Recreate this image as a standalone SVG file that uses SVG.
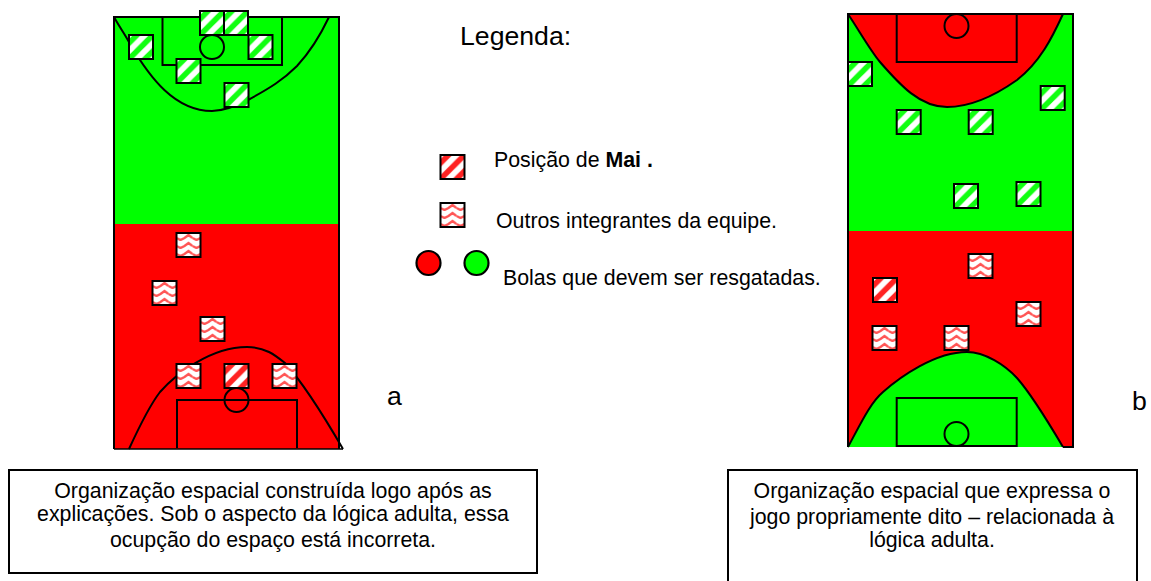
<svg xmlns="http://www.w3.org/2000/svg" width="1151" height="581" viewBox="0 0 1151 581">
<style>
text{font-family:"Liberation Sans",Arial,sans-serif;fill:#000}
.l{font-size:21.33px}
.c{font-size:21.33px;text-anchor:middle}
.big{font-size:26.67px}
.s{stroke:#000;stroke-width:2;fill:none}
.f{stroke:#000;stroke-width:2.2}
.sq{stroke:#000;stroke-width:2}
.g{fill:url(#dg)}
.r{fill:url(#dr)}
.w{fill:url(#wv)}
</style>
<defs>
<pattern id="dg" x="0" y="0" width=".66667" height=".66667"><rect width="16" height="16" fill="#fff"/><path d="M-4 12L12 -4M-4 28L28 -4" stroke="#1f1" stroke-width="5.5"/></pattern>
<pattern id="dr" x="0" y="0" width=".66667" height=".66667"><rect width="16" height="16" fill="#fff"/><path d="M-4 12L12 -4M-4 28L28 -4" stroke="#f22" stroke-width="5.5"/></pattern>
<pattern id="wv" x="0" y="0" width=".66667" height=".33333"><rect width="16" height="8" fill="#fff"/><path d="M0 5L4 7L8 5L12 2L16 5" fill="none" stroke="#f55" stroke-width="2.400"/></pattern>
</defs>

<g id="court-a">
<rect x="114" y="17" width="225" height="207" fill="#0f0"/>
<rect x="114" y="224" width="225" height="225" fill="#f00"/>
<path class="s" d="M114 449V17H339V449"/>
<path class="s" d="M162.500 17H282V65H162.500Z"/>
<circle class="s" cx="212" cy="47" r="12"/>
<path class="s" d="M114 17C120 28 125 34 130 44C150 78 175 111 212 111C225 111 240 104 248 100C270 88 283 80 297 66C310 52 320 36 329 17"/>
<path class="s" d="M177 448V400H297V448"/>
<circle class="s" cx="236.500" cy="400" r="12"/>
<path class="s" d="M129 449C140 425 150 405 160 392C175 375 210 347 247 347C265 347 275 355 285 363C305 385 325 418 343 449"/>
<path d="M114 449H343" stroke="#000" stroke-width="1.400"/>
</g>

<g id="players-a">
<rect class="sq g" x="200" y="11" width="24" height="24"/>
<rect class="sq g" x="224" y="11" width="24" height="24"/>
<rect class="sq g" x="248.500" y="35" width="24" height="24"/>
<rect class="sq g" x="129" y="35" width="24" height="24"/>
<rect class="sq g" x="176.500" y="59" width="24" height="24"/>
<rect class="sq g" x="224.500" y="83" width="24" height="24"/>
<rect class="sq w" x="176.500" y="233" width="24" height="24"/>
<rect class="sq w" x="152.500" y="281" width="24" height="24"/>
<rect class="sq w" x="200.500" y="317" width="24" height="24"/>
<rect class="sq w" x="176.500" y="364" width="24" height="24"/>
<rect class="sq r" x="224.500" y="364" width="24" height="24"/>
<rect class="sq w" x="272.500" y="364" width="24" height="24"/>
</g>

<g id="court-b">
<rect x="848" y="14" width="225" height="217" fill="#0f0"/>
<path d="M848 14C860 32 870 50 880 62C900 85 920 107 947 107C975 107 1000 92 1017 80C1040 62 1052 38 1063 14Z" fill="#f00"/>
<rect x="848" y="231" width="225" height="216" fill="#f00"/>
<path d="M848 447C860 425 870 403 883 392C900 377 935 352 967 352C985 352 1005 365 1017 378C1032 395 1050 425 1063 447Z" fill="#0f0"/>
<path class="s" d="M848 447V14H1073V447H1063"/>
<path class="s" d="M848 14C860 32 870 50 880 62C900 85 920 107 947 107C975 107 1000 92 1017 80C1040 62 1052 38 1063 14"/>
<path class="s" d="M848 447C860 425 870 403 883 392C900 377 935 352 967 352C985 352 1005 365 1017 378C1032 395 1050 425 1063 447"/>
<path class="s" d="M896.700 14H1016.700V62H896.700Z"/>
<circle class="s" cx="956.500" cy="26" r="12"/>
<path class="s" d="M896.700 398H1016.700V446H896.700Z"/>
<circle class="s" cx="956.500" cy="434" r="12"/>
</g>

<g id="players-b">
<rect class="sq g" x="848" y="62" width="24" height="24"/>
<rect class="sq g" x="896.700" y="110" width="24" height="24"/>
<rect class="sq g" x="968.700" y="110" width="24" height="24"/>
<rect class="sq g" x="1040.700" y="86" width="24" height="24"/>
<rect class="sq g" x="954" y="184" width="24" height="24"/>
<rect class="sq g" x="1016.500" y="182" width="24" height="24"/>
<rect class="sq w" x="968.500" y="254" width="24" height="24"/>
<rect class="sq r" x="873" y="278" width="24" height="24"/>
<rect class="sq w" x="1016.500" y="302" width="24" height="24"/>
<rect class="sq w" x="872.500" y="326" width="24" height="24"/>
<rect class="sq w" x="944.500" y="326" width="24" height="24"/>
</g>

<g id="legend">
<text class="big" x="460" y="45">Legenda:</text>
<rect class="sq r" x="440.500" y="155" width="24" height="24"/>
<text class="l" x="494" y="167">Posição de <tspan font-weight="bold">Mai .</tspan></text>
<rect class="sq w" x="440.500" y="203" width="24" height="24"/>
<text class="l" x="496" y="228">Outros integrantes da equipe.</text>
<circle class="f" cx="428.500" cy="263" r="12" fill="#f00"/>
<circle class="f" cx="476.500" cy="263" r="12" fill="#0f0"/>
<text class="l" x="503" y="285">Bolas que devem ser resgatadas.</text>
</g>

<text class="big" x="387" y="405">a</text>
<text class="big" x="1132" y="410">b</text>

<g id="caption-a">
<rect x="9" y="470" width="528" height="103" fill="#fff" stroke="#000" stroke-width="2"/>
<text class="c" x="273" y="498">Organização espacial construída logo após as</text>
<text class="c" x="273" y="521">explicações. Sob o aspecto da lógica adulta, essa</text>
<text class="c" x="273" y="547">ocupção do espaço está incorreta.</text>
</g>

<g id="caption-b">
<rect x="728" y="470" width="409" height="120" fill="#fff" stroke="#000" stroke-width="2"/>
<text class="c" x="932" y="498">Organização espacial que expressa o</text>
<text class="c" x="932" y="524">jogo propriamente dito – relacionada à</text>
<text class="c" x="932" y="547">lógica adulta.</text>
</g>
</svg>
